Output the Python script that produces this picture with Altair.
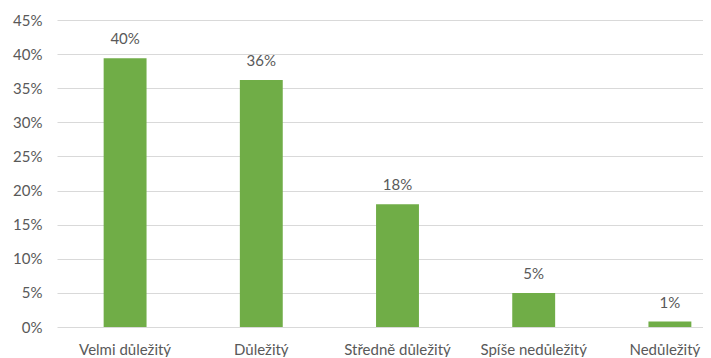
import altair as alt
import pandas as pd

categories = ["Velmi důležitý", "Důležitý", "Středně důležitý", "Spíše nedůležitý", "Nedůležitý"]
values = [0.394, 0.362, 0.180, 0.050, 0.008]
labels = ["40%", "36%", "18%", "5%", "1%"]
y_ticks = [0.0, 0.05, 0.10, 0.15, 0.20, 0.25, 0.30, 0.35, 0.40, 0.45]

df = pd.DataFrame({"cat": categories, "val": values, "lab": labels})

FONT = "Lato"
GRAY = "#595959"

x_axis = alt.Axis(labelAngle=0, labelFont=FONT, labelFontSize=15, labelColor=GRAY,
                  ticks=False, domain=False, labelPadding=15, grid=False,
                  labelOverlap=False,
                  labelOffset={"condition": {"test": "datum.value === 'Nedůležitý'", "value": -5},
                               "value": 0})
x = alt.X("cat:N", sort=categories, title=None,
          scale=alt.Scale(range=[0, 681], paddingInner=0.685, paddingOuter=0.3425),
          axis=x_axis)
y = alt.Y("val:Q", title=None,
          scale=alt.Scale(domain=[0, 0.45], nice=False),
          axis=alt.Axis(format=".0%", values=y_ticks,
                        labelFont=FONT, labelFontSize=15, labelColor=GRAY,
                        ticks=False, domain=False, labelPadding=15,
                        labelOverlap=False,
                        grid=True, gridColor="#d9d9d9", gridWidth=1))

bars = alt.Chart(df).mark_bar(color="#70AD47").encode(x=x, y=y)
text = alt.Chart(df).mark_text(dy=-14, baseline="alphabetic", font=FONT, fontSize=15,
                               color=GRAY).encode(x=x, y=y, text="lab:N")

chart = (bars + text).properties(
    width=646, height=307,
    autosize=alt.AutoSizeParams(type="none"),
    padding={"left": 49, "top": 12, "right": 0, "bottom": 30},
).configure_view(stroke=None)

chart.save("out.html", embed_options={"renderer": "svg", "actions": False})
